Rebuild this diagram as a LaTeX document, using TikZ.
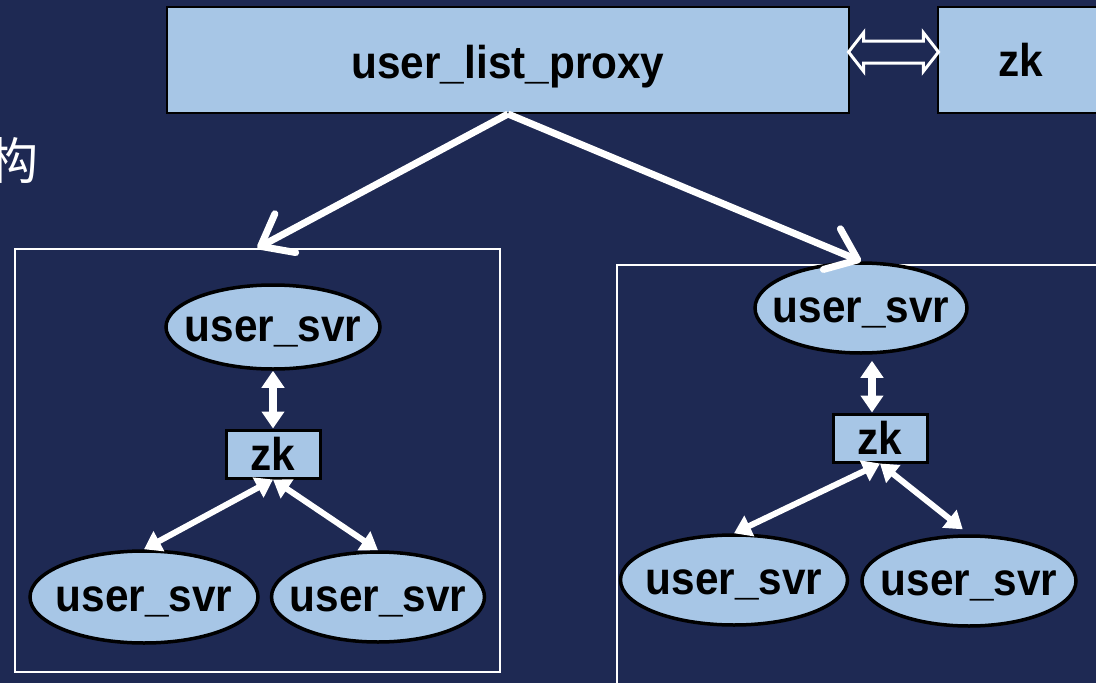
\documentclass[tikz,border=0pt]{standalone}
\usepackage{fontspec}
\setmainfont{Liberation Sans}
\newfontfamily\cjk{Noto Sans CJK SC}
\usepackage{graphicx}
\usetikzlibrary{shapes.geometric,shapes.arrows,arrows.meta,calc}

\definecolor{navy}{HTML}{1E2953}
\definecolor{boxblue}{HTML}{A7C6E6}
\newcommand{\lbl}[1]{\scalebox{0.92}[1]{#1}}

\begin{document}
\begin{tikzpicture}[x=1pt,y=-1pt,
    box node/.style={rectangle,draw=black,line width=2pt,fill=boxblue,inner sep=0pt,font=\bfseries\fontsize{46}{50}\selectfont},
    svr node/.style={ellipse,draw=black,line width=3.5pt,fill=boxblue,inner xsep=-20pt,inner ysep=-5pt,text height=28pt,text depth=0pt,font=\bfseries\fontsize{46}{50}\selectfont},
    group frame/.style={rectangle,draw=white,line width=2pt,inner sep=0pt},
    big arrow/.style={white,line width=7pt,-{Straight Barb[length=28pt,width=44pt,round]}},
    link/.style={white,line width=#1,{Triangle[length=17pt,width=22pt]}-{Triangle[length=17pt,width=22pt]}},
    link/.default=6pt]
    \useasboundingbox (0,0) rectangle (1096,683);
    \clip (0,0) rectangle (1096,683);
    \fill[navy] (0,0) rectangle (1096,683);

    \node[text=white,font=\cjk\fontsize{50}{54}\selectfont] (gou) at (14,161) {构};

    % top row
    \node[box node,minimum width=682pt,minimum height=106pt,text height=37pt,text depth=0pt] (proxy) at (508,60) {\lbl{user\_list\_proxy}};
    \node[box node,minimum width=166pt,minimum height=106pt] (zktop) at (1021,60) {\lbl{zk}};
    \node[double arrow,draw=white,line width=3pt,fill=navy,inner xsep=0pt,inner ysep=9.5pt,
          minimum height=90pt,double arrow head extend=8.5pt,double arrow tip angle=104]
          (pair) at ($(proxy.east)!0.5!(zktop.west)+(0,-8)$) {};

    % left group
    \node[group frame,minimum width=485pt,minimum height=423pt] (lframe) at (257.5,460.5) {};
    \node[svr node,minimum width=214pt,minimum height=84pt] (lsvr) at (273,327) {\lbl{user\_svr}};
    \node[box node,line width=3pt,minimum width=94pt,minimum height=48pt] (lzk) at (273,454) {\lbl{zk}};
    \node[svr node,minimum width=228pt,minimum height=92pt] (lsvr1) at (144,597) {\lbl{user\_svr}};
    \node[svr node,minimum width=213pt,minimum height=90pt] (lsvr2) at (378,597) {\lbl{user\_svr}};

    % right group
    \node[group frame,minimum width=500pt,minimum height=440pt,anchor=north west] (rframe) at (616,264) {};
    \node[svr node,minimum width=212pt,minimum height=90pt] (rsvr) at (861,308) {\lbl{user\_svr}};
    \node[box node,line width=3pt,minimum width=94pt,minimum height=48pt] (rzk) at (880,438) {\lbl{zk}};
    \node[svr node,minimum width=227pt,minimum height=90pt] (rsvr1) at (734,580) {\lbl{user\_svr}};
    \node[svr node,minimum width=214pt,minimum height=90pt] (rsvr2) at (969,581) {\lbl{user\_svr}};

    \path
        (proxy.south) edge [big arrow] (lframe.north)
        (proxy.south) edge [big arrow] (rsvr.north)
        (lsvr) edge [link=8pt] (lzk)
        (lzk.south) edge [link] (lsvr1.north)
        (lzk.south) edge [link] (lsvr2.north)
        ([xshift=-8pt]rzk.north) edge [link=8pt,shorten >=6pt] ([xshift=-8pt]rzk.north |- rsvr.south)
        (rzk.south) edge [link] (rsvr1.north)
        (rzk.south) edge [link,shorten >=8pt] (rsvr2.north)
        ;
\end{tikzpicture}
\end{document}
